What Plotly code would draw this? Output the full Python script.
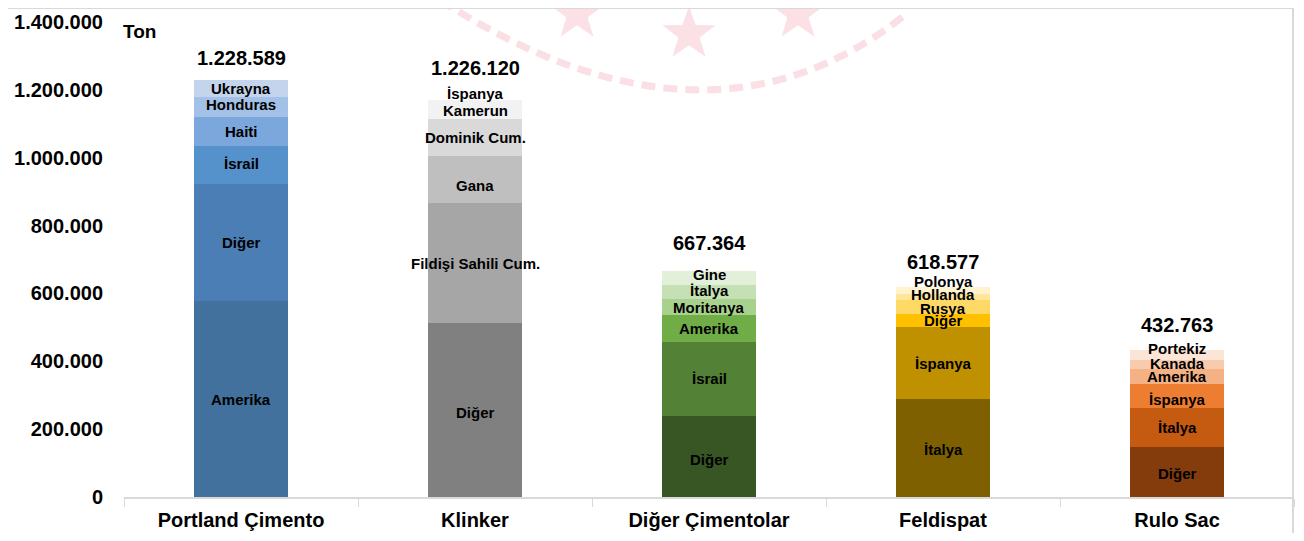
import math
import plotly.graph_objects as go

categories = ['Portland Çimento', 'Klinker', 'Diğer Çimentolar', 'Feldispat', 'Rulo Sac']

# segment names and values per product, from bottom to top
portland_names = ['Amerika', 'Diğer', 'İsrail', 'Haiti', 'Honduras', 'Ukrayna']
portland_vals = [578000, 345000, 112000, 85000, 59000, 49589]
klinker_names = ['Diğer', 'Fildişi Sahili Cum.', 'Gana', 'Dominik Cum.', 'Kamerun', 'İspanya']
klinker_vals = [512000, 355000, 138000, 109000, 56000, 56120]
diger_names = ['Diğer', 'İsrail', 'Amerika', 'Moritanya', 'İtalya', 'Gine']
diger_vals = [239000, 218000, 80000, 47000, 41000, 42364]
feldispat_names = ['İtalya', 'İspanya', 'Diğer', 'Rusya', 'Hollanda', 'Polonya']
feldispat_vals = [289000, 212000, 38000, 41000, 18000, 20577]
rulo_names = ['Diğer', 'İtalya', 'İspanya', 'Amerika', 'Kanada', 'Portekiz']
rulo_vals = [147000, 115000, 71000, 44000, 27000, 28763]

all_names = [portland_names, klinker_names, diger_names, feldispat_names, rulo_names]
all_vals = [portland_vals, klinker_vals, diger_vals, feldispat_vals, rulo_vals]

palettes = [
    ['#41719C', '#4A7EB5', '#5592CC', '#7BA7DC', '#A3C0E6', '#C3D4EC'],
    ['#808080', '#A6A6A6', '#BFBFBF', '#D9D9D9', '#F2F2F2', '#FFFFFF'],
    ['#375623', '#538135', '#70AD47', '#A9D18E', '#C5E0B4', '#E2F0D9'],
    ['#7F6000', '#BF9000', '#FFC000', '#FFD966', '#FFE699', '#FFF2CC'],
    ['#843C0C', '#C55A11', '#ED7D31', '#F4B183', '#F8CBAD', '#FBE5D6'],
]

# small pixel nudges for segment labels (as placed in the original)
label_nudge = [
    [-1, 0, 1, 0, 2, 0],
    [-2, 0, -6, 0, -1, -3],
    [-3, 0, 0, -1, 1, 3],
    [-2, -1, 0, -1, 3, 9],
    [-1, 0, -3, 0, 1, 7],
]

FONT = 'Arial, Liberation Sans, sans-serif'
# page body has an 8px margin, so the figure is drawn 8px in from the corner
OFF = 8
W, H = 1304 - 2 * OFF, 541 - 2 * OFF
L, R, T, B = 124 - OFF, 1304 - 1294 - OFF, 22 - OFF, 541 - 497 - OFF


def px(x, y):
    # page pixel -> paper coords
    x, y = x - OFF, y - OFF
    return (x - L) / (W - L - R), (H - B - y) / (H - T - B)


fig = go.Figure()

for level in range(6):
    fig.add_trace(go.Bar(
        x=categories,
        y=[v[level] for v in all_vals],
        marker=dict(color=[p[level] for p in palettes], line=dict(width=0)),
        showlegend=False,
        hoverinfo='skip',
    ))

# segment labels at the middle of each segment
for cat, names, vals, nudges in zip(categories, all_names, all_vals, label_nudge):
    base = 0
    for name, v, n in zip(names, vals, nudges):
        fig.add_annotation(
            x=cat, y=base + v / 2, text=name, showarrow=False,
            yanchor='middle', yshift=n,
            font=dict(family=FONT, size=15, color='black', weight='bold'),
        )
        base += v

totals = [sum(v) for v in all_vals]
total_shift = [9, 0, 15, 12, 12]
for cat, tot, sh in zip(categories, totals, total_shift):
    fig.add_annotation(
        x=cat, y=tot, text='{:,}'.format(tot).replace(',', '.'),
        showarrow=False, yanchor='bottom', yshift=sh,
        font=dict(family=FONT, size=20, color='black', weight='bold'),
    )

x0, y0 = px(121, 32)
fig.add_annotation(x=x0, y=y0, xref='paper', yref='paper', text='Ton',
                   showarrow=False, xanchor='left', yanchor='middle',
                   font=dict(family=FONT, size=19, color='black', weight='bold'))


# faint watermark: stars and a dashed arc
def star_path(cx, cy, r):
    pts = []
    for i in range(10):
        ang = -math.pi / 2 + i * math.pi / 5
        rr = r if i % 2 == 0 else r * 0.4
        pts.append(px(cx + rr * math.cos(ang), cy + rr * math.sin(ang)))
    return 'M ' + ' L '.join('{:.5f},{:.5f}'.format(a, b) for a, b in pts) + ' Z'


for cx, cy in [(577, 14), (689, 34), (798, 14)]:
    fig.add_shape(type='path', xref='paper', yref='paper', path=star_path(cx, cy, 28),
                  fillcolor='#F8CDD3', line=dict(width=0), opacity=0.6, layer='below')

a = px(440, 0)
c = px(707, 172)
e = px(905, 15)
fig.add_shape(type='path', xref='paper', yref='paper',
              path='M {:.5f},{:.5f} Q {:.5f},{:.5f} {:.5f},{:.5f}'.format(*a, *c, *e),
              line=dict(color='#F8CDD3', width=7, dash='14px,8px'), opacity=0.6, layer='below')

# light frame
f0 = px(2, 8)
f1 = px(1293, 560)
fig.add_shape(type='rect', xref='paper', yref='paper', x0=f0[0], y0=f1[1], x1=f1[0], y1=f0[1],
              line=dict(color='#D9D9D9', width=2), fillcolor='rgba(0,0,0,0)')

fig.update_layout(
    barmode='stack',
    bargap=0.6,
    width=W, height=H,
    margin=dict(l=L, r=R, t=T, b=B),
    paper_bgcolor='white',
    plot_bgcolor='rgba(0,0,0,0)',
    separators=',.',
    xaxis=dict(
        showline=True, linecolor='#D9D9D9', linewidth=1.5,
        ticks='outside', tickson='boundaries', ticklen=8, tickcolor='#D9D9D9',
        ticklabelstandoff=4, automargin=False,
        tickfont=dict(family=FONT, size=20, color='black', weight='bold'),
        showgrid=False,
    ),
    yaxis=dict(
        range=[0, 1400000], dtick=200000, tickformat=',d',
        showgrid=False, zeroline=False, showline=False,
        ticklabelstandoff=20, automargin=False,
        tickfont=dict(family=FONT, size=20, color='black', weight='bold'),
    ),
)

fig.write_html('out.html')
